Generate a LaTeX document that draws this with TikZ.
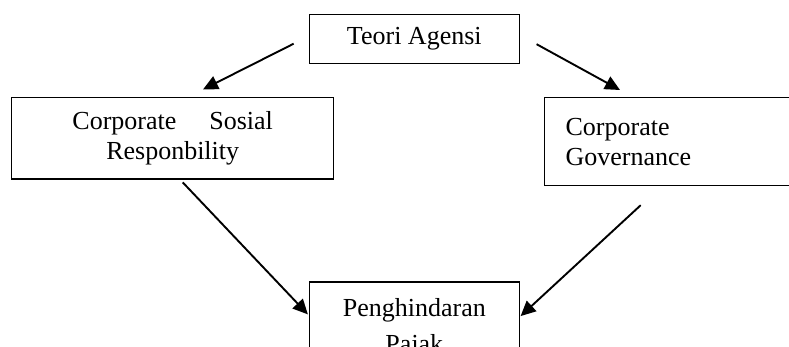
\documentclass[tikz,border=0pt]{standalone}
\usepackage{fontspec}
\setmainfont{Liberation Serif}
\usetikzlibrary{arrows.meta}

\begin{document}
\begin{tikzpicture}[
    x=1pt,y=-1pt,
    box/.style={draw,line width=1.2pt,align=center,minimum width=210pt,inner sep=0pt,font=\fontsize{26}{30}\selectfont},
    link/.style={-{Triangle[length=15pt,width=14pt]},line width=1.9pt},
  ]
    \useasboundingbox (0,0) rectangle (789,347);

    \node[box,minimum height=49pt] (teori) at (414.3,39.2) {Teori Agensi};
    \node[box,minimum width=322pt,minimum height=81.7pt] (csr) at (172.7,138.2) {Corporate\hspace{33pt}Sosial\\Responbility};
    \node[box,anchor=north west,align=left,text width=214pt,inner xsep=21pt,minimum height=87.7pt] (cg) at (544,97.3) {Corporate\\Governance};
    \node[box,minimum height=92pt] (pajak) at (414.3,328) {Penghindaran\\[6pt]Pajak};

    % free ends of the arrows
    \coordinate (teoriL) at ([shift={(-15,4.5)}]teori.west);
    \coordinate (teoriR) at ([shift={(16.7,5)}]teori.east);
    \coordinate (csrIn) at ([shift={(30.3,-7.3)}]csr.north);
    \coordinate (cgIn) at ([shift={(76,-7.3)}]cg.north west);
    \coordinate (csrOut) at ([shift={(10,2.7)}]csr.south);
    \coordinate (cgOut) at ([shift={(96.7,19)}]cg.south west);
    \coordinate (pajakL) at ([shift={(-0.8,33)}]pajak.north west);
    \coordinate (pajakR) at ([shift={(0.7,34.7)}]pajak.north east);

    \draw[link] (teoriL) -- (csrIn);
    \draw[link] (teoriR) -- (cgIn);
    \draw[link] (csrOut) -- (pajakL);
    \draw[link] (cgOut) -- (pajakR);
\end{tikzpicture}
\end{document}
